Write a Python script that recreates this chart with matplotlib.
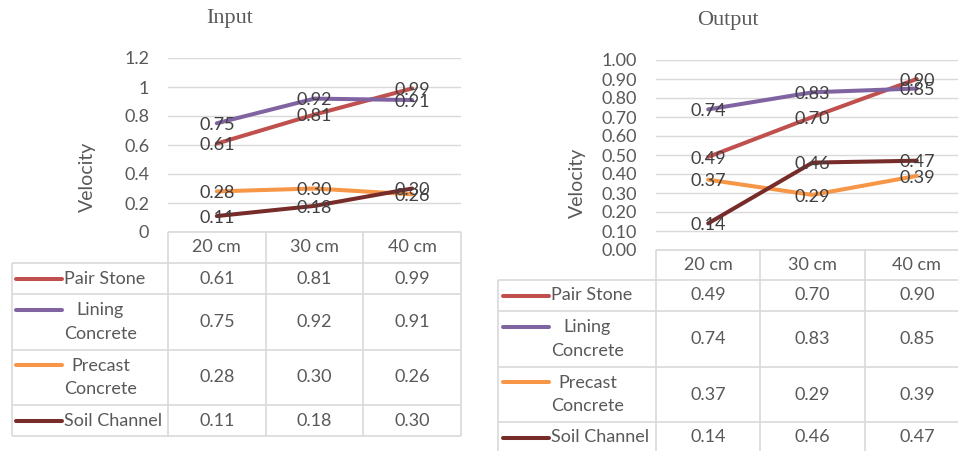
import matplotlib.pyplot as plt

W, H = 958, 451  # figure size in pixels

categories = ['20 cm', '30 cm', '40 cm']
series_names = ['Pair Stone', 'Lining\nConcrete', 'Precast\nConcrete', 'Soil Channel']
series_colors = ['#C0504D', '#8064A2', '#F79646', '#772C2A']

# Input velocities
in_pair_stone = [0.61, 0.81, 0.99]
in_lining = [0.75, 0.92, 0.91]
in_precast = [0.28, 0.30, 0.26]
in_soil = [0.11, 0.18, 0.30]

# Output velocities
out_pair_stone = [0.49, 0.70, 0.90]
out_lining = [0.74, 0.83, 0.85]
out_precast = [0.37, 0.29, 0.39]
out_soil = [0.14, 0.46, 0.47]

in_yticks = [0, 0.2, 0.4, 0.6, 0.8, 1.0, 1.2]
in_yticklabels = ['0', '0.2', '0.4', '0.6', '0.8', '1', '1.2']
out_yticks = [0.0, 0.1, 0.2, 0.3, 0.4, 0.5, 0.6, 0.7, 0.8, 0.9, 1.0]
out_yticklabels = ['0.00', '0.10', '0.20', '0.30', '0.40', '0.50',
                   '0.60', '0.70', '0.80', '0.90', '1.00']

plt.rcParams['font.family'] = ['Lato', 'DejaVu Sans']
GRID = '#D9D9D9'
TXT = '#595959'

fig = plt.figure(figsize=(W / 100, H / 100), dpi=100)

# overlay in pixel coordinates for the tables
tab = fig.add_axes([0, 0, 1, 1])
tab.set_xlim(0, W)
tab.set_ylim(H, 0)
tab.axis('off')


def panel(title, title_xy, series, yticks, yticklabels, ymax, box,
          ylabel_xy, table_left, rows, sample_x):
    x0, x1, yt, yb = box
    ax = fig.add_axes([x0 / W, 1 - yb / H, (x1 - x0) / W, (yb - yt) / H])
    ax.set_xlim(-0.5, 2.5)
    ax.set_ylim(0, ymax)
    for vals, c in zip(series, series_colors):
        ax.plot(range(len(categories)), vals, color=c, lw=2.9,
                solid_capstyle='round', zorder=3)
        for i, v in enumerate(vals):
            ax.annotate(f'{v:.2f}', (i, v), xytext=(0, -1.2),
                        textcoords='offset points', ha='center', va='center',
                        color='#404040', fontsize=13, zorder=4,
                        annotation_clip=False)
    ax.set_yticks(yticks, yticklabels)
    ax.set_xticks([])
    ax.grid(axis='y', color=GRID, lw=1)
    ax.set_axisbelow(True)
    for s in ax.spines.values():
        s.set_visible(False)
    ax.tick_params(axis='y', length=0, pad=13.5, labelsize=13, labelcolor=TXT)
    ax.patch.set_alpha(0)

    fig.text(title_xy[0] / W, 1 - title_xy[1] / H, title, ha='center',
             va='center', fontsize=16, color=TXT, family='Liberation Serif')
    fig.text(ylabel_xy[0] / W, 1 - ylabel_xy[1] / H, 'Velocity', rotation=90,
             ha='center', va='center', fontsize=14, color=TXT)

    # table
    n = len(categories)
    edges = [x0 + (x1 - x0) * k / n for k in range(n + 1)]
    centers = [(edges[k] + edges[k + 1]) / 2 for k in range(n)]
    tab.hlines(yb, x0, x1, color=GRID, lw=1.2)
    tab.hlines(rows, table_left, x1, color=GRID, lw=1.2)
    tab.vlines(edges, yb, rows[-1], color=GRID, lw=1.2)
    tab.vlines(table_left, rows[0], rows[-1], color=GRID, lw=1.2)
    for k, cat in enumerate(categories):
        tab.text(centers[k], (yb + rows[0]) / 2, cat, ha='center', va='center',
                 fontsize=13, color=TXT)
    for r, (name, vals, c) in enumerate(zip(series_names, series, series_colors)):
        mid = (rows[r] + rows[r + 1]) / 2
        for k, v in enumerate(vals):
            tab.text(centers[k], mid, f'{v:.2f}', ha='center', va='center',
                     fontsize=13, color=TXT)
        tab.text(sample_x[1] + 2, mid, name, ha='left', va='center',
                 multialignment='center', fontsize=13, color=TXT,
                 linespacing=1.6)
        ly = mid - 12.5 if '\n' in name else mid
        tab.plot(sample_x, [ly, ly], color=c, lw=2.9, solid_capstyle='round')


panel('Input', (230, 19),
      [in_pair_stone, in_lining, in_precast, in_soil],
      in_yticks, in_yticklabels, 1.2, (168, 461, 58, 232),
      (87, 177), 12, [263, 294, 350, 405, 436], (16, 62))

panel('Output', (728, 20),
      [out_pair_stone, out_lining, out_precast, out_soil],
      out_yticks, out_yticklabels, 1.0, (656, 969, 60, 250),
      (577, 183), 498, [280, 311, 367, 422, 453], (503, 549))

fig.savefig('out.png', dpi=100)
